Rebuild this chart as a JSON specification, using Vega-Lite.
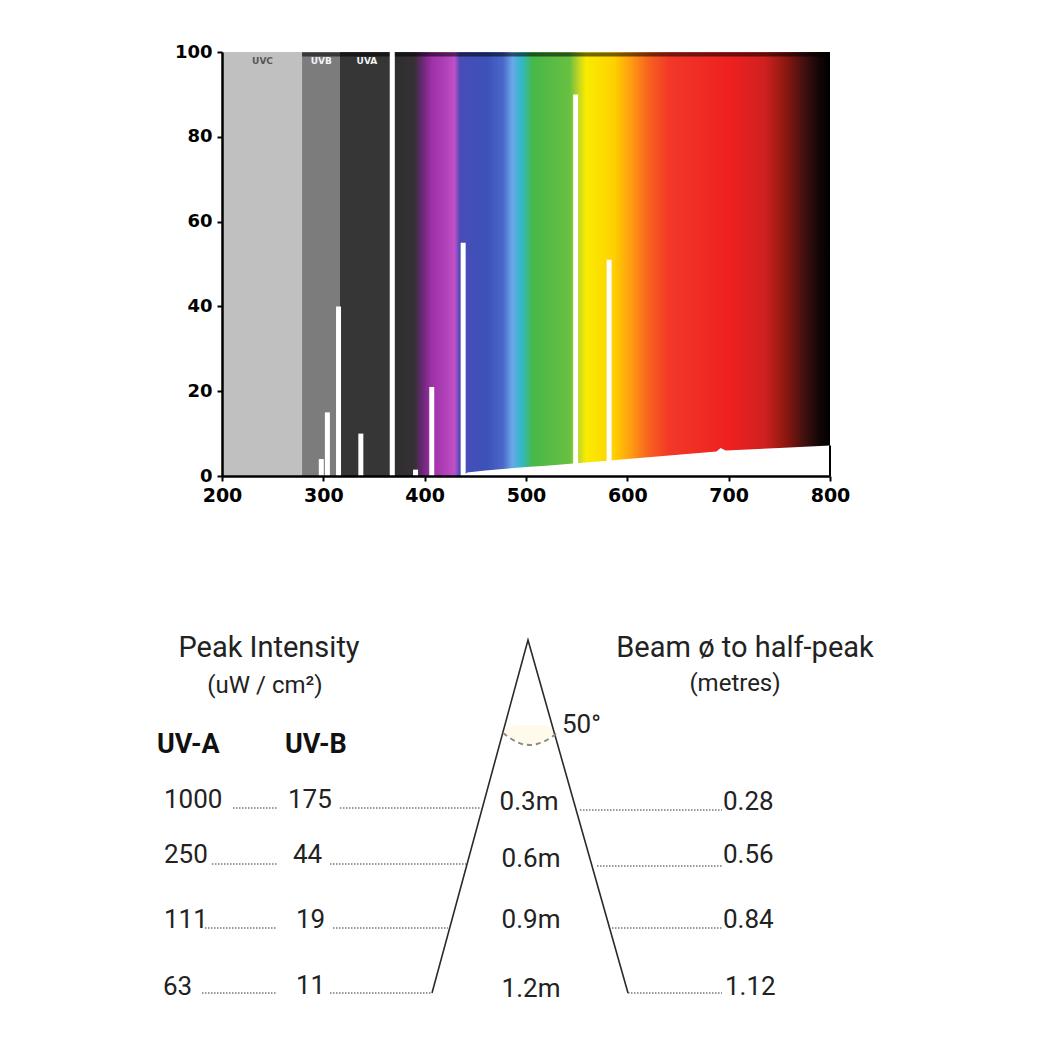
{
  "$schema": "https://vega.github.io/schema/vega-lite/v6.json",
  "background": "white",
  "padding": {"left": 157, "top": 43, "right": 5, "bottom": 5},
  "bounds": "flush",
  "spacing": 20,
  "config": {"view": {"stroke": null}},
  "datasets": {
    "bands": [
      {"band": "UVC", "start": 200, "end": 279, "lo": 0, "hi": 100},
      {"band": "UVB", "start": 279, "end": 316, "lo": 0, "hi": 100},
      {"band": "UVA", "start": 316, "end": 366, "lo": 0, "hi": 100}
    ],
    "visible": [{"start": 370, "end": 800, "lo": 0, "hi": 100}],
    "topEdge": [{"start": 279, "end": 800, "lvl": 99.4}],
    "lines": [
      {"nm": 298, "base": 0, "peak": 4},
      {"nm": 304, "base": 0, "peak": 15},
      {"nm": 315, "base": 0, "peak": 40},
      {"nm": 337, "base": 0, "peak": 10},
      {"nm": 368, "base": 0, "peak": 100},
      {"nm": 391, "base": 0, "peak": 1.5},
      {"nm": 407, "base": 0, "peak": 21},
      {"nm": 438, "base": 0, "peak": 55},
      {"nm": 549, "base": 0, "peak": 90},
      {"nm": 582, "base": 0, "peak": 51}
    ],
    "continuum": [
      {"nm": 438, "v": 0},
      {"nm": 442, "v": 0.8},
      {"nm": 460, "v": 1.3},
      {"nm": 480, "v": 1.7},
      {"nm": 500, "v": 2.1},
      {"nm": 520, "v": 2.4},
      {"nm": 550, "v": 3.0},
      {"nm": 580, "v": 3.6},
      {"nm": 600, "v": 4.0},
      {"nm": 650, "v": 5.0},
      {"nm": 688, "v": 5.8},
      {"nm": 692, "v": 6.6},
      {"nm": 697, "v": 6.0},
      {"nm": 750, "v": 6.6},
      {"nm": 800, "v": 7.2}
    ],
    "bandLabelsDark": [
      {"label": "UVC", "nm": 240}
    ],
    "bandLabelsLight": [
      {"label": "UVB", "nm": 298},
      {"label": "UVA", "nm": 343}
    ],
    "titles": [
      {"label": "Peak Intensity", "x": 269, "y": 657},
      {"label": "Beam ø to half-peak", "x": 745, "y": 657}
    ],
    "subtitles": [
      {"label": "(uW / cm²)", "x": 265, "y": 693},
      {"label": "(metres)", "x": 735, "y": 691}
    ],
    "headers": [
      {"label": "UV-A", "x": 157, "y": 753},
      {"label": "UV-B", "x": 285, "y": 753}
    ],
    "values": [
      {"label": "1000", "x": 164, "y": 808},
      {"label": "175", "x": 288, "y": 808},
      {"label": "0.28", "x": 723, "y": 810},
      {"label": "250", "x": 164, "y": 863},
      {"label": "44", "x": 293, "y": 863},
      {"label": "0.56", "x": 723, "y": 863},
      {"label": "111", "x": 164, "y": 928},
      {"label": "19", "x": 296, "y": 928},
      {"label": "0.84", "x": 723, "y": 928},
      {"label": "63", "x": 163, "y": 995},
      {"label": "11", "x": 296, "y": 994},
      {"label": "1.12", "x": 725, "y": 995},
      {"label": "50°", "x": 562, "y": 733}
    ],
    "distances": [
      {"label": "0.3m", "x": 529, "y": 810},
      {"label": "0.6m", "x": 531, "y": 867},
      {"label": "0.9m", "x": 531, "y": 928},
      {"label": "1.2m", "x": 531, "y": 997}
    ],
    "leaders": [
      {"x": 233, "x2": 278, "y": 808},
      {"x": 340, "x2": 481, "y": 808},
      {"x": 580, "x2": 722, "y": 810},
      {"x": 212, "x2": 278, "y": 864},
      {"x": 330, "x2": 466, "y": 864},
      {"x": 597, "x2": 722, "y": 866},
      {"x": 205, "x2": 277, "y": 928},
      {"x": 333, "x2": 448, "y": 928},
      {"x": 612, "x2": 722, "y": 928},
      {"x": 202, "x2": 277, "y": 993},
      {"x": 330, "x2": 432, "y": 993},
      {"x": 628, "x2": 722, "y": 993}
    ],
    "cone": [
      {"x": 432, "y": 993},
      {"x": 528, "y": 640},
      {"x": 628, "y": 993}
    ],
    "glow": [
      {"x": 505, "y": 734, "top": 728},
      {"x": 517, "y": 742, "top": 725},
      {"x": 530, "y": 745, "top": 725},
      {"x": 544, "y": 741.5, "top": 725},
      {"x": 554, "y": 734, "top": 728}
    ],
    "arc": [
      {"x": 503, "y": 733},
      {"x": 510, "y": 738},
      {"x": 517, "y": 742},
      {"x": 524, "y": 744.5},
      {"x": 530, "y": 745},
      {"x": 537, "y": 744},
      {"x": 544, "y": 741.5},
      {"x": 551, "y": 737.5},
      {"x": 557, "y": 733}
    ]
  },
  "vconcat": [
    {
      "width": 608,
      "height": 424,
      "layer": [
        {
          "data": {"name": "bands"},
          "mark": {"type": "rect"},
          "encoding": {
            "x": {
              "field": "start", "type": "quantitative", "title": null,
              "scale": {"domain": [200, 800], "nice": false, "zero": false},
              "axis": {
                "values": [200, 300, 400, 500, 600, 700, 800],
                "grid": false, "zindex": 1, "labelFlush": false,
                "labelFont": "DejaVu Sans", "labelFontWeight": "bold", "labelFontSize": 19,
                "labelColor": "#000", "domainColor": "#000", "domainWidth": 2.5,
                "tickColor": "#000", "tickWidth": 2, "tickSize": 5, "labelPadding": 5
              }
            },
            "x2": {"field": "end"},
            "y": {
              "field": "lo", "type": "quantitative", "title": null,
              "scale": {"domain": [0, 100], "nice": false},
              "axis": {
                "values": [0, 20, 40, 60, 80, 100],
                "grid": false, "zindex": 1, "labelFlush": false,
                "labelFont": "DejaVu Sans", "labelFontWeight": "bold", "labelFontSize": 18,
                "labelColor": "#000", "domainColor": "#000", "domainWidth": 2.5,
                "tickColor": "#000", "tickWidth": 2, "tickSize": 5, "labelPadding": 5
              }
            },
            "y2": {"field": "hi"},
            "color": {
              "field": "band", "type": "nominal", "legend": null,
              "scale": {"domain": ["UVC", "UVB", "UVA"], "range": ["#c0c0c0", "#7c7c7c", "#363636"]}
            }
          }
        },
        {
          "data": {"name": "visible"},
          "mark": {
            "type": "rect",
            "fill": {
              "gradient": "linear", "x1": 0, "y1": 0, "x2": 1, "y2": 0,
              "stops": [
                {"offset": 0, "color": "#2e2e2e"},
                {"offset": 0.046, "color": "#353035"},
                {"offset": 0.065, "color": "#6a2878"},
                {"offset": 0.086, "color": "#a030a8"},
                {"offset": 0.116, "color": "#b040b8"},
                {"offset": 0.139, "color": "#c050c8"},
                {"offset": 0.150, "color": "#4a4cb8"},
                {"offset": 0.213, "color": "#3c52b8"},
                {"offset": 0.250, "color": "#4a68c8"},
                {"offset": 0.271, "color": "#6aa8e8"},
                {"offset": 0.292, "color": "#30b8c8"},
                {"offset": 0.318, "color": "#48b848"},
                {"offset": 0.403, "color": "#68c040"},
                {"offset": 0.425, "color": "#c8d820"},
                {"offset": 0.440, "color": "#f8ec00"},
                {"offset": 0.505, "color": "#ffd000"},
                {"offset": 0.540, "color": "#ffa010"},
                {"offset": 0.585, "color": "#f86020"},
                {"offset": 0.632, "color": "#f23828"},
                {"offset": 0.769, "color": "#ee2020"},
                {"offset": 0.850, "color": "#d02020"},
                {"offset": 0.896, "color": "#901810"},
                {"offset": 0.942, "color": "#401010"},
                {"offset": 0.977, "color": "#100505"},
                {"offset": 1, "color": "#000000"}
              ]
            }
          },
          "encoding": {
            "x": {"field": "start", "type": "quantitative", "title": null},
            "x2": {"field": "end"},
            "y": {"field": "lo", "type": "quantitative", "title": null},
            "y2": {"field": "hi"}
          }
        },
        {
          "data": {"name": "topEdge"},
          "mark": {"type": "rule", "color": "#000000", "strokeWidth": 4, "opacity": 0.55},
          "encoding": {
            "x": {"field": "start", "type": "quantitative", "title": null},
            "x2": {"field": "end"},
            "y": {"field": "lvl", "type": "quantitative", "title": null}
          }
        },
        {
          "data": {"name": "continuum"},
          "mark": {"type": "area", "color": "#ffffff", "opacity": 1},
          "encoding": {
            "x": {"field": "nm", "type": "quantitative", "title": null},
            "y": {"field": "v", "type": "quantitative", "title": null}
          }
        },
        {
          "data": {"name": "lines"},
          "mark": {"type": "rule", "color": "#ffffff", "strokeWidth": 5},
          "encoding": {
            "x": {"field": "nm", "type": "quantitative", "title": null},
            "y": {"field": "base", "type": "quantitative", "title": null},
            "y2": {"field": "peak"}
          }
        },
        {
          "data": {"values": [{"edge": 800, "lo": 0, "hi": 7.2}]},
          "mark": {"type": "rule", "color": "#000000", "strokeWidth": 2},
          "encoding": {
            "x": {"field": "edge", "type": "quantitative", "title": null},
            "y": {"field": "lo", "type": "quantitative", "title": null},
            "y2": {"field": "hi"}
          }
        },
        {
          "data": {"name": "bandLabelsDark"},
          "mark": {"type": "text", "font": "DejaVu Sans", "fontWeight": "bold", "fontSize": 9, "baseline": "middle", "color": "#555555"},
          "encoding": {
            "x": {"field": "nm", "type": "quantitative", "title": null},
            "y": {"datum": 97.8, "type": "quantitative", "title": null},
            "text": {"field": "label"}
          }
        },
        {
          "data": {"name": "bandLabelsLight"},
          "mark": {"type": "text", "font": "DejaVu Sans", "fontWeight": "bold", "fontSize": 9, "baseline": "middle", "color": "#f4f4f4"},
          "encoding": {
            "x": {"field": "nm", "type": "quantitative", "title": null},
            "y": {"datum": 97.8, "type": "quantitative", "title": null},
            "text": {"field": "label"}
          }
        }
      ]
    },
    {
      "width": 680,
      "height": 540,
      "layer": [
        {
          "data": {"name": "glow"},
          "mark": {"type": "area", "color": "#fffaea", "opacity": 0.9, "interpolate": "monotone"},
          "encoding": {
            "x": {"field": "x", "type": "quantitative", "scale": {"domain": [222, 902], "nice": false, "zero": false}, "axis": null},
            "y": {"field": "y", "type": "quantitative", "scale": {"domain": [496, 1036], "nice": false, "zero": false, "reverse": true}, "axis": null},
            "y2": {"field": "top"}
          }
        },
        {
          "data": {"name": "leaders"},
          "mark": {"type": "rule", "color": "#777777", "strokeWidth": 1.3, "strokeDash": [1.5, 1.5]},
          "encoding": {
            "x": {"field": "x", "type": "quantitative", "axis": null},
            "x2": {"field": "x2"},
            "y": {"field": "y", "type": "quantitative", "axis": null}
          }
        },
        {
          "data": {"name": "cone"},
          "mark": {"type": "line", "color": "#2a2a2a", "strokeWidth": 1.6},
          "encoding": {
            "x": {"field": "x", "type": "quantitative", "axis": null},
            "y": {"field": "y", "type": "quantitative", "axis": null}
          }
        },
        {
          "data": {"name": "arc"},
          "mark": {"type": "line", "color": "#8a8a80", "strokeWidth": 2, "strokeDash": [5, 4], "interpolate": "monotone"},
          "encoding": {
            "x": {"field": "x", "type": "quantitative", "axis": null},
            "y": {"field": "y", "type": "quantitative", "axis": null}
          }
        },
        {
          "data": {"name": "titles"},
          "mark": {"type": "text", "font": "Roboto", "fontSize": 29, "align": "center", "baseline": "alphabetic", "color": "#222222"},
          "encoding": {
            "x": {"field": "x", "type": "quantitative", "axis": null},
            "y": {"field": "y", "type": "quantitative", "axis": null},
            "text": {"field": "label"}
          }
        },
        {
          "data": {"name": "subtitles"},
          "mark": {"type": "text", "font": "Roboto", "fontSize": 24, "align": "center", "baseline": "alphabetic", "color": "#222222"},
          "encoding": {
            "x": {"field": "x", "type": "quantitative", "axis": null},
            "y": {"field": "y", "type": "quantitative", "axis": null},
            "text": {"field": "label"}
          }
        },
        {
          "data": {"name": "headers"},
          "mark": {"type": "text", "font": "Roboto", "fontWeight": "bold", "fontSize": 27, "align": "left", "baseline": "alphabetic", "color": "#111111"},
          "encoding": {
            "x": {"field": "x", "type": "quantitative", "axis": null},
            "y": {"field": "y", "type": "quantitative", "axis": null},
            "text": {"field": "label"}
          }
        },
        {
          "data": {"name": "values"},
          "mark": {"type": "text", "font": "Roboto", "fontSize": 26, "align": "left", "baseline": "alphabetic", "color": "#222222"},
          "encoding": {
            "x": {"field": "x", "type": "quantitative", "axis": null},
            "y": {"field": "y", "type": "quantitative", "axis": null},
            "text": {"field": "label"}
          }
        },
        {
          "data": {"name": "distances"},
          "mark": {"type": "text", "font": "Roboto", "fontSize": 26, "align": "center", "baseline": "alphabetic", "color": "#222222"},
          "encoding": {
            "x": {"field": "x", "type": "quantitative", "axis": null},
            "y": {"field": "y", "type": "quantitative", "axis": null},
            "text": {"field": "label"}
          }
        }
      ]
    }
  ]
}
